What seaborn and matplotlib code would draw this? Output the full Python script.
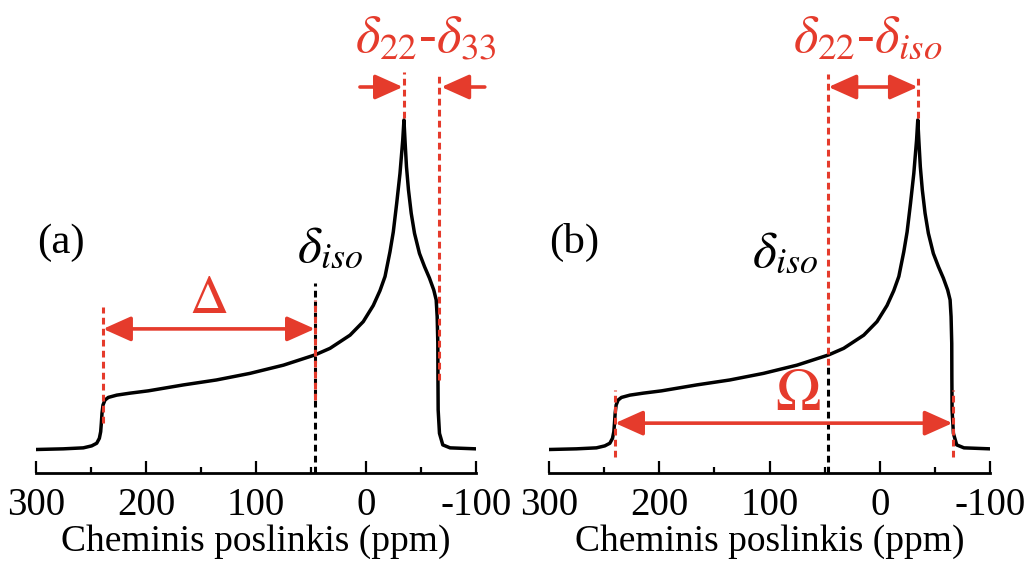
import matplotlib
matplotlib.use("Agg")
import numpy as np
import pandas as pd
import matplotlib.pyplot as plt
import seaborn as sns
from matplotlib.ticker import FixedLocator

# ---- data ----
shift_ppm = [300, 275.2, 257, 249.4, 244.8, 242.4, 241.2, 240.6, 240.0, 239.1, 237.3,
             234.3, 226.6, 214.5, 197.9, 166, 136, 105.5, 75, 46.4, 32.7, 14.5, 2.5,
             -6.6, -12.7, -17.3, -21.8, -24.8, -27.9, -30.9, -33.4, -34.5, -35.6, -36.8,
             -38.6, -41.1, -44.1, -48.6, -53.2, -57.7, -61.6, -63.8, -64.7, -65.3, -65.4,
             -65.6, -66.8, -69.8, -76.4, -100]
intensity = [0.0, 0.002, 0.005, 0.011, 0.019, 0.034, 0.054, 0.08, 0.11, 0.135, 0.15,
             0.158, 0.165, 0.171, 0.178, 0.196, 0.211, 0.231, 0.256, 0.287, 0.307, 0.347,
             0.388, 0.437, 0.482, 0.525, 0.600, 0.660, 0.747, 0.838, 0.939, 1.0, 0.929,
             0.858, 0.788, 0.717, 0.656, 0.595, 0.555, 0.52, 0.484, 0.454, 0.403, 0.322,
             0.221, 0.12, 0.049, 0.014, 0.005, 0.002]

delta_11 = 239.0
delta_22 = -34.5
delta_33 = -66.0
delta_iso = 46.5

tick_values = [300, 200, 100, 0, -100]
tick_labels = ["300", "200", "100", "0", "-100"]
minor_ticks = [250, 150, 50, -50]
panel_labels = ["(a)", "(b)"]
x_title = "Cheminis poslinkis (ppm)"

RED = "#E53B2C"

sns.set_theme(style="ticks")
plt.rcParams["font.family"] = ["Liberation Serif", "DejaVu Serif"]
plt.rcParams["mathtext.fontset"] = "stix"
plt.rcParams["axes.unicode_minus"] = False
plt.rcParams["text.color"] = "black"
plt.rcParams["axes.labelcolor"] = "black"
plt.rcParams["xtick.color"] = "black"
plt.rcParams["xtick.labelcolor"] = "black"

W, H = 1034, 568
fig = plt.figure(figsize=(W / 100, H / 100), dpi=100)
ax_a = fig.add_axes([36 / W, 95 / H, 440 / W, 473 / H])
ax_b = fig.add_axes([549 / W, 95 / H, 441 / W, 473 / H])

df = pd.DataFrame({"ppm": shift_ppm, "I": intensity})

for ax, lab in zip([ax_a, ax_b], panel_labels):
    sns.lineplot(data=df, x="ppm", y="I", ax=ax, color="black", lw=2.5,
                 sort=False, estimator=None, zorder=3)
    ax.set_xlim(300, -100)
    ax.set_ylim(-0.0713, 1.364)
    for s in ["left", "right", "top"]:
        ax.spines[s].set_visible(False)
    ax.spines["bottom"].set_linewidth(2.0)
    ax.spines["bottom"].set_color("black")
    ax.set_yticks([])
    ax.set_xticks(tick_values)
    ax.set_xticklabels(tick_labels)
    ax.xaxis.set_minor_locator(FixedLocator(minor_ticks))
    ax.tick_params(axis="x", which="major", direction="in", length=8.5, width=1.6,
                   labelsize=28, pad=10, color="black", labelcolor="black", bottom=True)
    ax.tick_params(axis="x", which="minor", direction="in", length=4.3, width=1.6,
                   color="black", bottom=True)
    ax.set_xlabel(x_title, fontsize=27, labelpad=0, color="black")
    ax.set_ylabel("")
    ax.text(277, 0.627, lab, fontsize=31, ha="center", va="center", color="black")
    ax.patch.set_alpha(0)

dash = (0, (2.2, 1.4))


def vline(ax, x, y0, y1, color, lw=2.2, z=4):
    ax.plot([x, x], [y0, y1], color=color, lw=lw, linestyle=dash, zorder=z)


def arrow(ax, x_tail, x_tip, y, both=False):
    style = "<|-|>" if both else "-|>"
    ax.annotate("", xy=(x_tip, y), xytext=(x_tail, y),
                arrowprops=dict(arrowstyle=f"{style},head_length=0.85,head_width=0.38",
                                color=RED, lw=2.6, shrinkA=0, shrinkB=0,
                                mutation_scale=20), zorder=5)


# ---- panel (a) ----
vline(ax_a, delta_iso, -0.0713, 0.505, "black", z=3)
vline(ax_a, delta_iso, 0.15, 0.454, RED)
vline(ax_a, delta_11, 0.08, 0.432, RED)
vline(ax_a, delta_22, 1.006, 1.146, RED)
vline(ax_a, delta_33, 0.211, 1.146, RED)
arrow(ax_a, delta_11, delta_iso, 0.366, both=True)
arrow(ax_a, 5.5, delta_22 + 1.0, 1.100)
arrow(ax_a, -108, delta_33 - 2.5, 1.100)
ax_a.text(143.6, 0.454, r"$\Delta$", color=RED, fontsize=39, ha="center", va="center")
ax_a.text(-54.5, 1.245, r"$\delta_{22}$-$\delta_{33}$", color=RED, fontsize=38,
          ha="center", va="center")
ax_a.text(32.7, 0.605, r"$\delta_{iso}$", color="black", fontsize=37,
          ha="center", va="center")

# ---- panel (b) ----
vline(ax_b, delta_iso, -0.0713, 0.256, "black", z=3)
vline(ax_b, delta_iso, 0.256, 1.14, RED)
vline(ax_b, delta_22, 1.006, 1.14, RED)
vline(ax_b, delta_11 + 1, -0.023, 0.181, RED)
vline(ax_b, delta_33, -0.023, 0.181, RED)
arrow(ax_b, delta_11 + 1, delta_33, 0.080, both=True)
arrow(ax_b, delta_iso, delta_22, 1.100, both=True)
ax_b.text(74.2, 0.165, r"$\Omega$", color=RED, fontsize=44, ha="center", va="center")
ax_b.text(10.7, 1.245, r"$\delta_{22}$-$\delta_{iso}$", color=RED, fontsize=38,
          ha="center", va="center")
ax_b.text(85.9, 0.59, r"$\delta_{iso}$", color="black", fontsize=37,
          ha="center", va="center")

fig.savefig("out.png", dpi=100)
